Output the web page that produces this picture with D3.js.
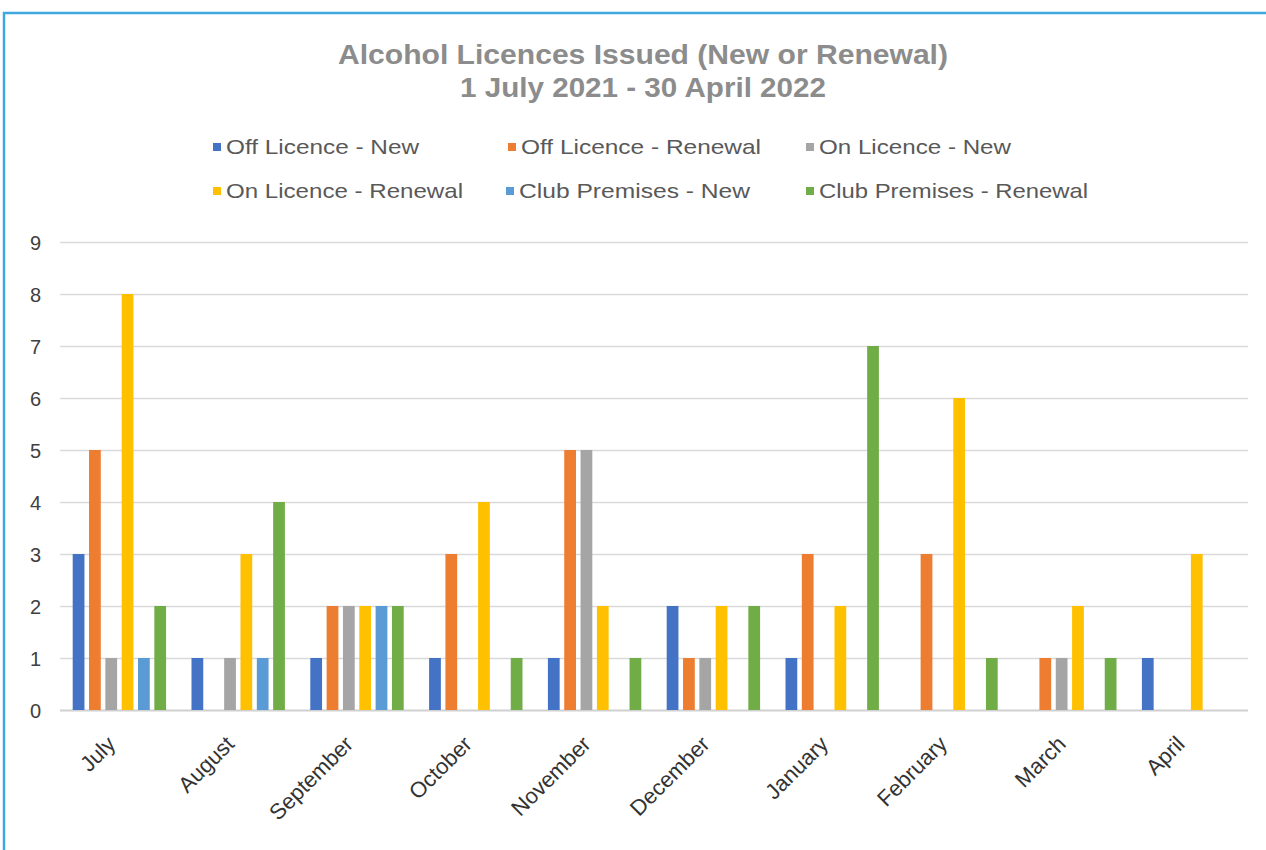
<!DOCTYPE html>
<html><head><meta charset="utf-8">
<script src="https://cdn.jsdelivr.net/npm/d3@7"></script>
<style>body{margin:0;background:#fff}svg{display:block;font-family:"Liberation Sans",Arial,sans-serif}</style>
</head><body><svg id="c" width="1266" height="850"></svg>
<script>
const months = ["July","August","September","October","November","December","January","February","March","April"];
const seriesNames = ["Off Licence - New","Off Licence - Renewal","On Licence - New","On Licence - Renewal","Club Premises - New","Club Premises - Renewal"];
const colors = ["#4472C4","#ED7D31","#A5A5A5","#FFC000","#5B9BD5","#70AD47"];
const offNew     = [3,1,1,1,1,2,1,0,0,1];
const offRenewal = [5,0,2,3,5,1,3,3,1,0];
const onNew      = [1,1,2,0,5,1,0,0,1,0];
const onRenewal  = [8,3,2,4,2,2,2,6,2,3];
const clubNew    = [1,1,2,0,0,0,0,0,0,0];
const clubRenewal= [2,4,2,1,1,2,7,1,1,0];
const yTicks = [0,1,2,3,4,5,6,7,8,9];
const titleLines = ["Alcohol Licences Issued (New or Renewal)","1 July 2021 - 30 April 2022"];

const series = [offNew,offRenewal,onNew,onRenewal,clubNew,clubRenewal];
const svg = d3.select("#c");

// frame
svg.append("rect").attr("x",4).attr("y",13).attr("width",1280).attr("height",860)
  .attr("fill","none").attr("stroke","#41A8DF").attr("stroke-width",2.5);

const L=60,R=1248,T=242,B=710;
const x0 = d3.scaleBand().domain(months).range([L,R]).paddingInner(0.2).paddingOuter(0.1);
const x1 = d3.scaleBand().domain(d3.range(6)).range([0,x0.bandwidth()]).paddingInner(0.28).paddingOuter(0.05);
const y = d3.scaleLinear().domain([0,9]).range([B,T]);

// title
const tw=[610,366];
titleLines.forEach((t,i)=>{
  svg.append("text").attr("x",643).attr("y",[64,97][i]).attr("text-anchor","middle")
    .attr("font-size",28).attr("font-weight","bold").attr("fill","#8C8C8C")
    .attr("textLength",tw[i]).attr("lengthAdjust","spacingAndGlyphs").text(t);
});

// legend
const legPos = [[213,147,193],[508,147,240],[806,147,192],[213,191,237],[506,191,231],[806,191,269]];
seriesNames.forEach((n,i)=>{
  const [lx,ly,w]=legPos[i];
  svg.append("rect").attr("x",lx).attr("y",ly-4).attr("width",8).attr("height",8).attr("fill",colors[i]);
  svg.append("text").attr("x",lx+13).attr("y",ly+7).attr("font-size",21).attr("fill","#595959")
    .attr("textLength",w).attr("lengthAdjust","spacingAndGlyphs").text(n);
});

// gridlines
const yAxis = d3.axisLeft(y).tickValues(yTicks).tickSize(-(R-L)).tickFormat(d3.format("d"));
const gy = svg.append("g").attr("transform",`translate(${L},0)`).call(yAxis);
gy.select(".domain").remove();
gy.selectAll(".tick line").attr("stroke","#D9D9D9").attr("stroke-width",1.5);
gy.selectAll(".tick text").attr("x",-19).attr("font-size",20).attr("fill","#404040").attr("dy","0.35em");
gy.selectAll(".tick").filter(d=>d===0).select("line").attr("stroke","#D0D0D0").attr("stroke-width",2);

// bars
const groups = svg.append("g").selectAll("g").data(months).join("g")
  .attr("transform",d=>`translate(${x0(d)},0)`);
groups.selectAll("rect").data((m,mi)=>series.map((s,si)=>({si,v:s[mi]}))).join("rect")
  .attr("x",d=>x1(d.si)).attr("width",x1.bandwidth())
  .attr("y",d=>y(d.v)).attr("height",d=>B-y(d.v)).attr("fill",d=>colors[d.si]);

// x axis labels
const xAxis = d3.axisBottom(x0).tickSize(0);
const gx = svg.append("g").attr("transform",`translate(0,${B})`).call(xAxis);
gx.select(".domain").remove();
gx.selectAll(".tick text").attr("font-size",22).attr("fill","#333")
  .attr("text-anchor","end").attr("transform","translate(-8,30) rotate(-45)").attr("dy","0.35em").attr("y",0);
</script></body></html>
